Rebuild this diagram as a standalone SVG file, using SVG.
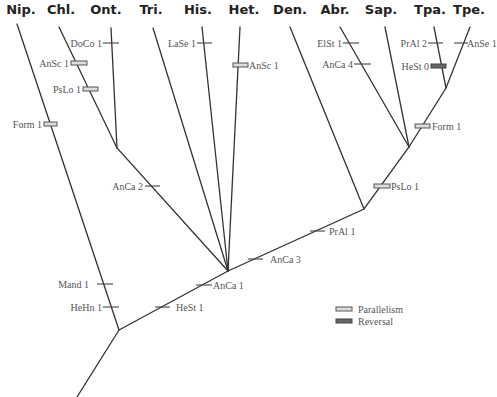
<svg xmlns="http://www.w3.org/2000/svg" width="497" height="397" viewBox="0 0 497 397">
<style>
.taxon{font-family:"DejaVu Sans","Liberation Sans",sans-serif;font-weight:bold;font-size:13px;fill:#222;text-anchor:middle}
.br{stroke:#333;stroke-width:1.3;fill:none;stroke-linecap:round}
.tk{stroke:#444;stroke-width:1.1}
.lb{font-family:"Liberation Serif","Times New Roman",serif;font-size:10px;fill:#555}
.r{text-anchor:end}
.par{fill:#ddd;stroke:#555;stroke-width:1}
.rev{fill:#666;stroke:#444;stroke-width:1}
</style>
<rect width="497" height="397" fill="#fff"/>
<g id="taxa">
<g id="nip"><text class="taxon" x="21" y="14">Nip.</text></g>
<g id="chl"><text class="taxon" x="61" y="14">Chl.</text></g>
<g id="ont"><text class="taxon" x="106" y="14">Ont.</text></g>
<g id="tri"><text class="taxon" x="151" y="14">Tri.</text></g>
<g id="his"><text class="taxon" x="198" y="14">His.</text></g>
<g id="het"><text class="taxon" x="244" y="14">Het.</text></g>
<g id="den"><text class="taxon" x="290" y="14">Den.</text></g>
<g id="abr"><text class="taxon" x="335" y="14">Abr.</text></g>
<g id="sap"><text class="taxon" x="381" y="14">Sap.</text></g>
<g id="tpa"><text class="taxon" x="430" y="14">Tpa.</text></g>
<g id="tpe"><text class="taxon" x="469" y="14">Tpe.</text></g>
</g>
<g id="connectors">
<path class="br" d="M77,397 L119,330 L17,24"/>
<path class="br" d="M119,330 L228,271 L364,209 L409,147 L446,88 L470,27"/>
<path class="br" d="M446,88 L434,27"/>
<path class="br" d="M409,147 L340,27"/>
<path class="br" d="M409,147 L385,27"/>
<path class="br" d="M364,209 L290,27"/>
<path class="br" d="M228,271 L117,148 L59,27"/>
<path class="br" d="M117,148 L111,28"/>
<path class="br" d="M228,271 L153,28"/>
<path class="br" d="M228,271 L202,27"/>
<path class="br" d="M228,271 L240,27"/>
</g>
<g id="characters">
<rect class="par" x="44" y="122" width="13" height="4"/><text class="lb r" x="42" y="127.5">Form 1</text>
<line class="tk" x1="97" y1="284" x2="113" y2="284"/><text class="lb r" x="89" y="287.5">Mand 1</text>
<line class="tk" x1="103" y1="307" x2="119" y2="307"/><text class="lb r" x="102" y="310.5">HeHn 1</text>
<rect class="par" x="71" y="61" width="16" height="4"/><text class="lb r" x="69" y="66.5">AnSc 1</text>
<rect class="par" x="83" y="87" width="15" height="4"/><text class="lb r" x="81" y="92.5">PsLo 1</text>
<line class="tk" x1="103" y1="43" x2="119" y2="43"/><text class="lb r" x="102" y="46.5">DoCo 1</text>
<line class="tk" x1="197" y1="43" x2="212" y2="43"/><text class="lb r" x="196" y="46.5">LaSe 1</text>
<rect class="par" x="233" y="63" width="15" height="4"/><text class="lb" x="249" y="68.5">AnSc 1</text>
<line class="tk" x1="343" y1="43" x2="359" y2="43"/><text class="lb r" x="342" y="46.5">ElSt 1</text>
<line class="tk" x1="354" y1="64" x2="371" y2="64"/><text class="lb r" x="353" y="67.5">AnCa 4</text>
<line class="tk" x1="428" y1="43" x2="443" y2="43"/><text class="lb r" x="427" y="46.5">PrAl 2</text>
<rect class="rev" x="431" y="64" width="15" height="4"/><text class="lb r" x="429" y="69.5">HeSt 0</text>
<line class="tk" x1="454" y1="43" x2="468" y2="43"/><text class="lb" x="467" y="46.5" font-size="9.6">AnSe 1</text>
<rect class="par" x="415" y="124" width="15" height="4"/><text class="lb" x="432" y="129.5">Form 1</text>
<rect class="par" x="374" y="184" width="16" height="4"/><text class="lb" x="391" y="189.5">PsLo 1</text>
<line class="tk" x1="310" y1="231" x2="325" y2="231"/><text class="lb" x="329" y="234.5">PrAl 1</text>
<line class="tk" x1="248" y1="259" x2="263" y2="259"/><text class="lb" x="270" y="262.5">AnCa 3</text>
<line class="tk" x1="145" y1="186" x2="160" y2="186"/><text class="lb r" x="143" y="189.5">AnCa 2</text>
<line class="tk" x1="196" y1="285" x2="212" y2="285"/><text class="lb" x="213" y="288.5">AnCa 1</text>
<line class="tk" x1="155" y1="307" x2="170" y2="307"/><text class="lb" x="176" y="310.5">HeSt 1</text>
</g>
<g id="legend">
<rect class="par" x="336" y="307" width="16" height="4"/><text class="lb" x="358" y="312.5">Parallelism</text>
<rect class="rev" x="336" y="319" width="16" height="4"/><text class="lb" x="358" y="324.5">Reversal</text>
</g>
</svg>
